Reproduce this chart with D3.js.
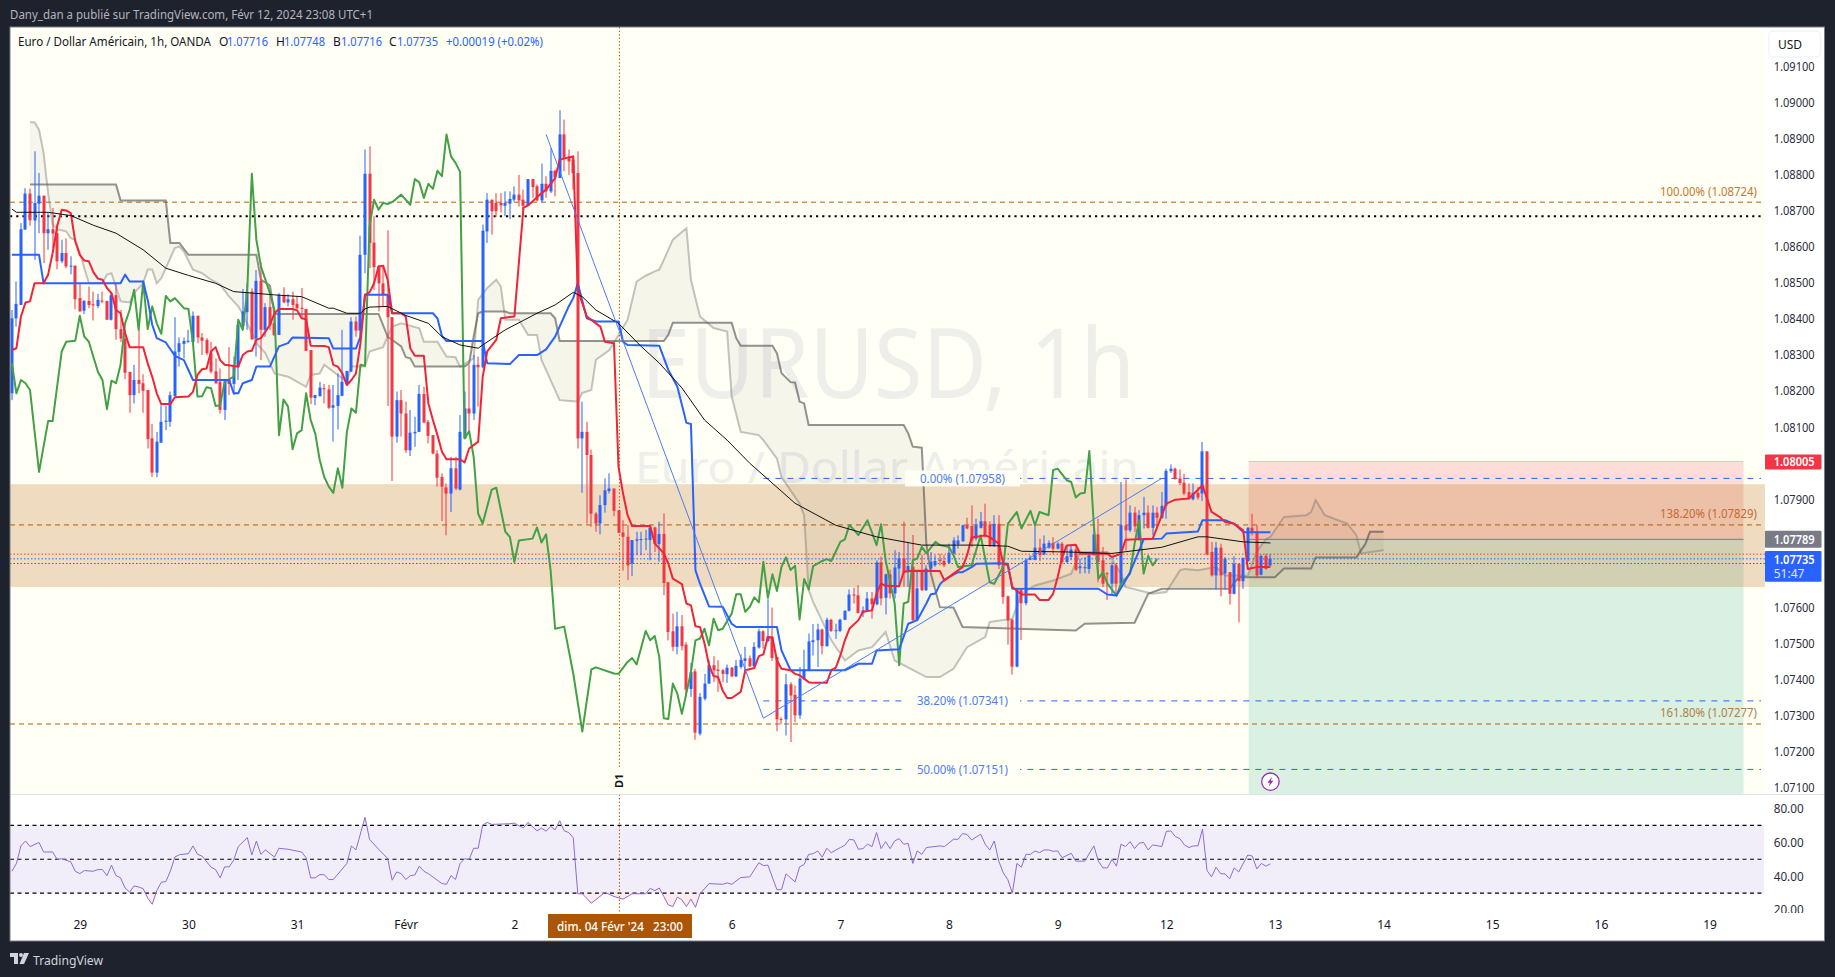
<!DOCTYPE html>
<html>
<head>
<meta charset="utf-8">
<script src="https://cdn.jsdelivr.net/npm/d3@7.9.0/dist/d3.min.js"></script>
<style>
  html, body { margin: 0; padding: 0; background: #1e222d; }
  svg { display: block; }
  text { font-family: "Noto Sans", "Open Sans", sans-serif; }
</style>
</head>
<body>
<svg id="chart" width="1835" height="977"></svg>
<script>
// -------------------- DATA -------------------- //
const firstBar = -15; // bar 0 is 29 Jan 00:00, one bar per trading hour

const opens = [
1.08194,1.08402,1.08439,1.08648,1.08748,1.08673,1.08720,1.08742,1.08638,1.08649,1.08638,1.08560,1.08583,1.08546,1.08548,
1.08458,1.08423,1.08450,1.08441,1.08436,1.08451,1.08450,1.08398,1.08466,1.08372,
1.08346,1.08253,1.08189,1.08231,1.08222,1.08203,1.08069,1.07974,1.08057,1.08115,
1.08115,1.08186,1.08309,1.08331,1.08337,1.08336,1.08409,1.08349,1.08342,1.08307,
1.08255,1.08226,1.08148,1.08231,1.08220,1.08266,1.08381,1.08419,1.08476,1.08346,
1.08506,1.08370,1.08433,1.08388,1.08356,1.08467,1.08446,1.08455,1.08442,1.08431,
1.08428,1.08314,1.08181,1.08186,1.08208,1.08205,1.08154,1.08159,1.08187,1.08220,
1.08254,1.08393,1.08368,1.08578,1.08803,1.08612,1.08546,1.08499,1.08467,1.08405,
1.08074,1.08175,1.08138,1.08036,1.08083,1.08087,1.08192,1.08115,1.08078,1.08027,
1.07962,1.07933,1.07916,1.07986,1.07927,1.08069,1.08152,1.08138,1.08273,1.08266,
1.08643,1.08731,1.08722,1.08722,1.08714,1.08720,1.08731,1.08745,1.08731,1.08715,
1.08788,1.08768,1.08729,1.08775,1.08754,1.08811,1.08791,1.08912,1.08851,1.08842,
1.08805,1.08069,1.08087,1.08023,1.07860,1.07833,1.07884,1.07923,1.07930,1.07870,
1.07808,1.07796,1.07722,1.07785,1.07788,1.07789,1.07787,1.07822,1.07776,1.07804,
1.07670,1.07534,1.07491,1.07548,1.07497,1.07374,1.07423,1.07250,1.07347,1.07389,
1.07440,1.07428,1.07426,1.07415,1.07433,1.07409,1.07435,1.07452,1.07459,1.07437,
1.07489,1.07534,1.07507,1.07520,1.07463,1.07291,1.07290,1.07387,1.07358,1.07301,
1.07401,1.07426,1.07504,1.07509,1.07539,1.07493,1.07566,1.07535,1.07535,1.07566,
1.07591,1.07636,1.07634,1.07585,1.07591,1.07625,1.07609,1.07725,1.07627,1.07692,
1.07639,1.07708,1.07736,1.07699,1.07713,1.07565,1.07704,1.07648,1.07708,1.07717,
1.07733,1.07729,1.07724,1.07749,1.07775,1.07784,1.07828,1.07826,1.07791,1.07821,
1.07839,1.07830,1.07770,1.07832,1.07717,1.07631,1.07566,1.07436,1.07649,1.07612,
1.07732,1.07732,1.07766,1.07747,1.07766,1.07779,1.07763,1.07777,1.07726,1.07740,
1.07761,1.07709,1.07709,1.07707,1.07745,1.07803,1.07731,1.07695,1.07666,1.07717,
1.07666,1.07828,1.07814,1.07863,1.07789,1.07856,1.07863,1.07821,1.07863,1.07849,
1.07882,1.07978,1.07985,1.07958,1.07946,1.07920,1.07900,1.07918,1.07916,1.08033,
1.07754,1.07689,1.07766,1.07694,1.07698,1.07638,1.07721,1.07673,1.07729,1.07821,
1.07811,1.07691,1.07743,1.07716];

const highs = [
1.08425,1.08504,1.08666,1.08763,1.08762,1.08865,1.08805,1.08742,1.08696,1.08708,1.08662,1.08620,1.08624,1.08574,1.08548,
1.08498,1.08453,1.08490,1.08476,1.08470,1.08476,1.08451,1.08474,1.08501,1.08425,
1.08370,1.08254,1.08273,1.08370,1.08247,1.08203,1.08109,1.08087,1.08161,1.08159,
1.08199,1.08405,1.08349,1.08349,1.08370,1.08421,1.08409,1.08361,1.08347,1.08337,
1.08291,1.08263,1.08231,1.08322,1.08296,1.08393,1.08483,1.08499,1.08485,1.08536,
1.08557,1.08444,1.08476,1.08425,1.08472,1.08488,1.08469,1.08476,1.08462,1.08486,
1.08428,1.08314,1.08190,1.08226,1.08220,1.08217,1.08217,1.08249,1.08370,1.08256,
1.08405,1.08407,1.08631,1.08870,1.08879,1.08685,1.08550,1.08550,1.08646,1.08405,
1.08199,1.08203,1.08171,1.08148,1.08129,1.08217,1.08212,1.08120,1.08078,1.08036,
1.07972,1.07944,1.08018,1.08018,1.08134,1.08199,1.08273,1.08300,1.08296,1.08662,
1.08749,1.08731,1.08749,1.08749,1.08754,1.08754,1.08768,1.08800,1.08759,1.08788,
1.08788,1.08773,1.08831,1.08796,1.08874,1.08814,1.08979,1.08953,1.08870,1.08851,
1.08865,1.08171,1.08115,1.08038,1.07865,1.07911,1.07958,1.07972,1.07930,1.07870,
1.07842,1.07829,1.07787,1.07810,1.07810,1.07815,1.07824,1.07824,1.07838,1.07861,
1.07671,1.07583,1.07588,1.07579,1.07504,1.07446,1.07430,1.07363,1.07416,1.07454,
1.07465,1.07454,1.07430,1.07442,1.07435,1.07454,1.07470,1.07491,1.07467,1.07504,
1.07541,1.07537,1.07623,1.07600,1.07463,1.07296,1.07416,1.07393,1.07384,1.07435,
1.07483,1.07528,1.07554,1.07555,1.07541,1.07572,1.07569,1.07555,1.07569,1.07592,
1.07650,1.07655,1.07662,1.07603,1.07643,1.07643,1.07731,1.07741,1.07694,1.07705,
1.07759,1.07754,1.07838,1.07782,1.07801,1.07699,1.07745,1.07717,1.07754,1.07745,
1.07749,1.07745,1.07777,1.07795,1.07800,1.07830,1.07849,1.07883,1.07846,1.07865,
1.07888,1.07839,1.07856,1.07856,1.07726,1.07633,1.07569,1.07652,1.07652,1.07735,
1.07745,1.07828,1.07791,1.07800,1.07786,1.07795,1.07782,1.07782,1.07772,1.07772,
1.07768,1.07735,1.07740,1.07749,1.07825,1.07846,1.07768,1.07698,1.07726,1.07721,
1.07948,1.07955,1.07883,1.07879,1.07870,1.07907,1.07883,1.07883,1.07879,1.07920,
1.07985,1.07997,1.07988,1.07983,1.07971,1.07944,1.07944,1.07934,1.08059,1.08033,
1.07782,1.07782,1.07777,1.07740,1.07698,1.07742,1.07721,1.07738,1.07823,1.07860,
1.07828,1.07747,1.07749,1.07748];

const lows = [
1.08175,1.08379,1.08439,1.08648,1.08659,1.08564,1.08638,1.08555,1.08592,1.08597,1.08538,1.08555,1.08541,1.08524,1.08427,
1.08421,1.08414,1.08430,1.08396,1.08430,1.08444,1.08398,1.08396,1.08342,1.08336,
1.08233,1.08140,1.08166,1.08194,1.08140,1.08041,1.07962,1.07961,1.08057,1.08092,
1.08101,1.08186,1.08268,1.08291,1.08333,1.08333,1.08333,1.08300,1.08300,1.08249,
1.08220,1.08138,1.08120,1.08189,1.08189,1.08231,1.08379,1.08370,1.08342,1.08296,
1.08286,1.08351,1.08370,1.08353,1.08356,1.08444,1.08435,1.08398,1.08427,1.08402,
1.08312,1.08164,1.08161,1.08185,1.08166,1.08150,1.08060,1.08094,1.08186,1.08217,
1.08254,1.08351,1.08351,1.08527,1.08541,1.08481,1.08421,1.08435,1.08159,1.07951,
1.08057,1.08074,1.08029,1.08020,1.08046,1.08087,1.08111,1.08055,1.08025,1.07935,
1.07840,1.07800,1.07865,1.07925,1.07925,1.08069,1.08090,1.08120,1.08157,1.08263,
1.08611,1.08634,1.08683,1.08696,1.08685,1.08677,1.08726,1.08712,1.08685,1.08713,
1.08736,1.08726,1.08724,1.08736,1.08749,1.08740,1.08791,1.08810,1.08800,1.08759,
1.08041,1.07918,1.07833,1.07824,1.07810,1.07803,1.07863,1.07916,1.07853,1.07807,
1.07702,1.07676,1.07687,1.07745,1.07745,1.07759,1.07731,1.07754,1.07727,1.07634,
1.07509,1.07479,1.07470,1.07481,1.07352,1.07352,1.07233,1.07245,1.07342,1.07389,
1.07393,1.07366,1.07393,1.07391,1.07407,1.07407,1.07430,1.07416,1.07435,1.07435,
1.07486,1.07486,1.07504,1.07452,1.07257,1.07276,1.07245,1.07227,1.07282,1.07291,
1.07398,1.07426,1.07467,1.07435,1.07470,1.07491,1.07532,1.07513,1.07532,1.07565,
1.07589,1.07611,1.07583,1.07574,1.07588,1.07569,1.07606,1.07606,1.07581,1.07625,
1.07625,1.07657,1.07657,1.07657,1.07560,1.07563,1.07646,1.07646,1.07704,1.07713,
1.07717,1.07712,1.07721,1.07747,1.07763,1.07782,1.07817,1.07768,1.07786,1.07819,
1.07795,1.07768,1.07768,1.07707,1.07610,1.07497,1.07414,1.07434,1.07510,1.07606,
1.07731,1.07731,1.07729,1.07745,1.07763,1.07749,1.07761,1.07721,1.07724,1.07731,
1.07701,1.07694,1.07695,1.07694,1.07745,1.07670,1.07657,1.07621,1.07633,1.07633,
1.07664,1.07758,1.07809,1.07809,1.07786,1.07819,1.07819,1.07800,1.07823,1.07846,
1.07846,1.07973,1.07955,1.07939,1.07911,1.07899,1.07897,1.07899,1.07895,1.07745,
1.07686,1.07650,1.07631,1.07650,1.07608,1.07636,1.07559,1.07652,1.07726,1.07800,
1.07682,1.07689,1.07705,1.07716];

const closes = [
1.08402,1.08442,1.08649,1.08748,1.08674,1.08722,1.08742,1.08638,1.08649,1.08637,1.08560,1.08583,1.08546,1.08548,1.08455,
1.08421,1.08450,1.08439,1.08438,1.08453,1.08449,1.08398,1.08466,1.08372,1.08346,
1.08251,1.08189,1.08231,1.08220,1.08201,1.08067,1.07974,1.08060,1.08115,1.08118,
1.08189,1.08310,1.08333,1.08339,1.08340,1.08409,1.08349,1.08340,1.08305,1.08254,
1.08222,1.08148,1.08226,1.08220,1.08268,1.08384,1.08421,1.08476,1.08344,1.08506,
1.08370,1.08433,1.08384,1.08356,1.08467,1.08446,1.08455,1.08439,1.08430,1.08428,
1.08312,1.08182,1.08189,1.08210,1.08205,1.08154,1.08161,1.08189,1.08226,1.08256,
1.08393,1.08368,1.08578,1.08803,1.08611,1.08544,1.08499,1.08467,1.08405,1.08074,
1.08175,1.08138,1.08036,1.08085,1.08087,1.08192,1.08113,1.08076,1.08027,1.07960,
1.07935,1.07916,1.07986,1.07930,1.08087,1.08152,1.08138,1.08273,1.08266,1.08645,
1.08731,1.08699,1.08699,1.08715,1.08722,1.08733,1.08745,1.08729,1.08714,1.08788,
1.08766,1.08729,1.08775,1.08754,1.08811,1.08793,1.08912,1.08847,1.08837,1.08805,
1.08069,1.08087,1.08023,1.07860,1.07833,1.07884,1.07925,1.07930,1.07868,1.07807,
1.07796,1.07717,1.07787,1.07789,1.07790,1.07791,1.07822,1.07776,1.07804,1.07668,
1.07532,1.07491,1.07548,1.07493,1.07372,1.07421,1.07253,1.07352,1.07389,1.07440,
1.07426,1.07424,1.07416,1.07433,1.07409,1.07438,1.07455,1.07459,1.07437,1.07491,
1.07534,1.07507,1.07520,1.07460,1.07290,1.07290,1.07387,1.07356,1.07301,1.07403,
1.07428,1.07506,1.07509,1.07539,1.07493,1.07566,1.07535,1.07537,1.07566,1.07591,
1.07636,1.07633,1.07585,1.07592,1.07625,1.07609,1.07725,1.07625,1.07692,1.07639,
1.07711,1.07736,1.07696,1.07715,1.07565,1.07653,1.07648,1.07708,1.07727,1.07729,
1.07729,1.07717,1.07752,1.07786,1.07786,1.07828,1.07819,1.07786,1.07828,1.07839,
1.07797,1.07770,1.07832,1.07717,1.07629,1.07564,1.07436,1.07649,1.07612,1.07732,
1.07738,1.07766,1.07745,1.07777,1.07779,1.07763,1.07777,1.07726,1.07742,1.07761,
1.07705,1.07714,1.07712,1.07745,1.07803,1.07726,1.07666,1.07694,1.07717,1.07666,
1.07828,1.07814,1.07863,1.07825,1.07856,1.07863,1.07821,1.07863,1.07849,1.07882,
1.07979,1.07985,1.07956,1.07945,1.07916,1.07902,1.07918,1.07905,1.08033,1.07747,
1.07689,1.07766,1.07689,1.07735,1.07638,1.07721,1.07673,1.07738,1.07821,1.07809,
1.07689,1.07743,1.07707,1.07735];

// indicator lines as [bar, price] turning points
const tenkan = [[-15,1.08314],[-14,1.08319],[-13,1.08407],[-12,1.08446],[-11,1.08449],[-10,1.08499],[-8,1.08499],[-7,1.08523],[-6,1.08583],[-5,1.08657],[-4,1.08703],[-3,1.08701],[-2,1.08694],[-1,1.08615],[0,1.08578],[1,1.08562],[2,1.08560],[3,1.08530],[4,1.08512],[5,1.08509],[6,1.08486],[7,1.08472],[8,1.08425],[9,1.08416],[10,1.08361],[11,1.08322],[14,1.08322],[15,1.08277],[16,1.08240],[17,1.08194],[18,1.08164],[20,1.08164],[21,1.08183],[24,1.08185],[25,1.08198],[26,1.08245],[27,1.08261],[28,1.08263],[29,1.08310],[30,1.08322],[31,1.08286],[32,1.08273],[34,1.08270],[35,1.08268],[36,1.08300],[37,1.08310],[38,1.08312],[39,1.08342],[40,1.08347],[41,1.08365],[42,1.08384],[43,1.08416],[44,1.08428],[47,1.08428],[48,1.08424],[49,1.08402],[50,1.08399],[51,1.08326],[54,1.08325],[55,1.08322],[56,1.08273],[57,1.08268],[58,1.08249],[59,1.08217],[60,1.08231],[61,1.08249],[62,1.08333],[63,1.08467],[64,1.08474],[65,1.08499],[66,1.08546],[67,1.08548],[68,1.08509],[69,1.08416],[71,1.08416],[72,1.08407],[73,1.08319],[74,1.08298],[76,1.08298],[77,1.08166],[78,1.08120],[79,1.08078],[80,1.08032],[81,1.08011],[84,1.08011],[85,1.08002],[86,1.08041],[88,1.08060],[89,1.08240],[90,1.08310],[92,1.08342],[93,1.08402],[96,1.08407],[98,1.08708],[99,1.08715],[101,1.08738],[103,1.08759],[105,1.08791],[106,1.08842],[109,1.08851],[110,1.08481],[112,1.08407],[114,1.08388],[115,1.08379],[116,1.08337],[118,1.08333],[119,1.07990],[120,1.07916],[121,1.07856],[122,1.07826],[126,1.07826],[127,1.07778],[129,1.07750],[130,1.07722],[131,1.07680],[133,1.07665],[134,1.07611],[135,1.07606],[136,1.07548],[137,1.07546],[138,1.07500],[139,1.07440],[140,1.07410],[141,1.07407],[142,1.07370],[143,1.07349],[144,1.07349],[146,1.07366],[147,1.07426],[149,1.07432],[150,1.07465],[151,1.07470],[152,1.07518],[153,1.07516],[154,1.07453],[155,1.07430],[157,1.07426],[158,1.07416],[159,1.07412],[161,1.07393],[162,1.07391],[165,1.07391],[166,1.07426],[167,1.07433],[168,1.07467],[169,1.07509],[170,1.07541],[172,1.07565],[173,1.07588],[175,1.07592],[176,1.07639],[177,1.07666],[178,1.07660],[181,1.07659],[182,1.07699],[184,1.07702],[190,1.07701],[191,1.07675],[193,1.07694],[195,1.07712],[196,1.07745],[197,1.07794],[200,1.07800],[201,1.07795],[203,1.07777],[204,1.07721],[205,1.07717],[206,1.07657],[208,1.07636],[211,1.07636],[212,1.07621],[214,1.07621],[215,1.07638],[216,1.07684],[217,1.07740],[218,1.07772],[220,1.07774],[221,1.07749],[227,1.07749],[228,1.07740],[230,1.07749],[231,1.07788],[237,1.07791],[238,1.07823],[240,1.07888],[242,1.07899],[245,1.07902],[248,1.07939],[249,1.07902],[250,1.07865],[252,1.07849],[253,1.07837],[255,1.07832],[257,1.07814],[258,1.07707],[260,1.07712],[263,1.07712]];

const kijun = [[-15,1.08578],[-9,1.08578],[-8,1.08499],[9,1.08499],[10,1.08523],[11,1.08504],[14,1.08504],[15,1.08453],[16,1.08384],[17,1.08347],[19,1.08335],[21,1.08298],[23,1.08286],[25,1.08231],[33,1.08231],[34,1.08194],[35,1.08194],[36,1.08222],[38,1.08231],[39,1.08268],[42,1.08268],[44,1.08324],[46,1.08333],[47,1.08349],[55,1.08347],[56,1.08318],[61,1.08318],[62,1.08351],[63,1.08467],[68,1.08467],[69,1.08416],[78,1.08416],[79,1.08402],[80,1.08353],[81,1.08339],[89,1.08339],[90,1.08277],[95,1.08275],[97,1.08300],[101,1.08300],[103,1.08316],[105,1.08351],[108,1.08435],[109,1.08458],[110,1.08499],[112,1.08402],[114,1.08393],[119,1.08393],[120,1.08337],[121,1.08328],[128,1.08326],[130,1.08259],[132,1.08212],[134,1.08112],[135,1.08109],[136,1.07703],[137,1.07666],[139,1.07603],[142,1.07602],[144,1.07555],[145,1.07546],[154,1.07546],[155,1.07481],[157,1.07426],[169,1.07426],[172,1.07444],[175,1.07444],[176,1.07481],[181,1.07484],[183,1.07555],[185,1.07565],[187,1.07611],[188,1.07637],[189,1.07639],[190,1.07664],[191,1.07677],[194,1.07698],[195,1.07698],[197,1.07712],[198,1.07721],[203,1.07723],[205,1.07721],[206,1.07652],[225,1.07652],[227,1.07636],[229,1.07633],[231,1.07675],[232,1.07698],[234,1.07758],[235,1.07789],[239,1.07791],[240,1.07805],[247,1.07811],[248,1.07842],[253,1.07842],[255,1.07832],[257,1.07809],[263,1.07809]];

const chikou = [[-15,1.08277],[-14,1.08194],[-13,1.08231],[-12,1.08222],[-11,1.08203],[-9,1.07976],[-7,1.08117],[-6,1.08117],[-4,1.08310],[-3,1.08337],[-1,1.08340],[0,1.08409],[1,1.08351],[2,1.08337],[4,1.08254],[5,1.08231],[6,1.08150],[7,1.08229],[8,1.08222],[9,1.08273],[10,1.08388],[11,1.08425],[12,1.08481],[13,1.08370],[14,1.08504],[15,1.08372],[16,1.08435],[17,1.08388],[18,1.08359],[19,1.08464],[20,1.08449],[21,1.08458],[23,1.08430],[24,1.08428],[25,1.08333],[26,1.08185],[27,1.08186],[28,1.08211],[29,1.08208],[30,1.08159],[31,1.08161],[32,1.08226],[34,1.08240],[35,1.08398],[36,1.08370],[37,1.08481],[38,1.08803],[39,1.08620],[40,1.08546],[42,1.08472],[43,1.08425],[44,1.08078],[45,1.08177],[46,1.08157],[47,1.08039],[48,1.08083],[49,1.08092],[50,1.08194],[51,1.08120],[52,1.08083],[53,1.08009],[54,1.07962],[55,1.07935],[56,1.07918],[57,1.07986],[58,1.07932],[59,1.08087],[60,1.08152],[61,1.08140],[62,1.08273],[63,1.08270],[64,1.08657],[65,1.08731],[66,1.08703],[67,1.08722],[68,1.08719],[69,1.08724],[71,1.08745],[73,1.08717],[74,1.08788],[75,1.08779],[76,1.08736],[77,1.08775],[78,1.08761],[79,1.08811],[80,1.08796],[81,1.08912],[82,1.08851],[83,1.08833],[84,1.08808],[85,1.08069],[86,1.08089],[87,1.08018],[88,1.07860],[89,1.07833],[91,1.07927],[92,1.07932],[94,1.07810],[95,1.07796],[96,1.07726],[97,1.07786],[100,1.07791],[101,1.07822],[102,1.07780],[103,1.07803],[104,1.07703],[105,1.07541],[107,1.07547],[109,1.07417],[111,1.07256],[113,1.07428],[114,1.07434],[118,1.07417],[119,1.07416],[121,1.07449],[122,1.07460],[123,1.07442],[125,1.07535],[126,1.07509],[127,1.07521],[128,1.07463],[129,1.07293],[130,1.07291],[131,1.07389],[132,1.07361],[133,1.07305],[135,1.07421],[136,1.07509],[137,1.07514],[138,1.07541],[139,1.07495],[140,1.07569],[141,1.07537],[142,1.07541],[144,1.07583],[145,1.07637],[146,1.07637],[147,1.07588],[148,1.07602],[149,1.07628],[150,1.07614],[151,1.07727],[152,1.07627],[153,1.07692],[154,1.07646],[155,1.07713],[156,1.07739],[157,1.07704],[158,1.07716],[159,1.07567],[160,1.07679],[161,1.07650],[162,1.07715],[164,1.07729],[165,1.07734],[166,1.07729],[168,1.07782],[169,1.07789],[170,1.07829],[172,1.07801],[174,1.07842],[176,1.07773],[177,1.07831],[178,1.07731],[180,1.07611],[181,1.07440],[182,1.07611],[183,1.07616],[184,1.07731],[185,1.07736],[186,1.07768],[187,1.07750],[189,1.07782],[190,1.07773],[192,1.07768],[193,1.07745],[194,1.07712],[197,1.07717],[199,1.07800],[201,1.07670],[202,1.07666],[204,1.07714],[205,1.07832],[207,1.07865],[208,1.07819],[210,1.07868],[211,1.07828],[212,1.07865],[214,1.07856],[215,1.07981],[216,1.07985],[218,1.07953],[219,1.07948],[220,1.07905],[221,1.07916],[222,1.07918],[223,1.08034],[224,1.07828],[225,1.07680],[226,1.07698],[227,1.07666],[229,1.07633],[230,1.07666],[232,1.07694],[233,1.07777],[234,1.07842],[235,1.07694],[236,1.07743],[237,1.07717],[238,1.07735]];

const senkouA = [[-11,1.08946],[-10,1.08946],[-9,1.08925],[-8,1.08861],[-7,1.08749],[-6,1.08662],[-5,1.08649],[-3,1.08643],[-2,1.08624],[-1,1.08620],[0,1.08583],[2,1.08499],[5,1.08499],[6,1.08523],[7,1.08527],[9,1.08449],[11,1.08446],[12,1.08472],[14,1.08499],[15,1.08537],[16,1.08537],[17,1.08499],[18,1.08513],[21,1.08597],[22,1.08601],[23,1.08587],[25,1.08537],[27,1.08527],[29,1.08509],[31,1.08495],[33,1.08462],[35,1.08435],[36,1.08414],[39,1.08333],[41,1.08305],[43,1.08249],[46,1.08240],[50,1.08212],[51,1.08245],[53,1.08249],[54,1.08273],[56,1.08254],[59,1.08226],[60,1.08268],[63,1.08268],[64,1.08310],[67,1.08322],[68,1.08351],[69,1.08379],[71,1.08388],[75,1.08374],[76,1.08337],[79,1.08337],[81,1.08296],[83,1.08294],[84,1.08268],[87,1.08291],[88,1.08453],[90,1.08486],[92,1.08509],[93,1.08490],[94,1.08398],[97,1.08398],[99,1.08356],[101,1.08356],[102,1.08286],[106,1.08175],[110,1.08171],[111,1.08195],[113,1.08203],[114,1.08287],[117,1.08314],[121,1.08398],[123,1.08504],[125,1.08520],[127,1.08532],[128,1.08537],[129,1.08564],[131,1.08620],[134,1.08652],[135,1.08509],[137,1.08407],[140,1.08375],[143,1.08365],[144,1.08185],[146,1.08087],[150,1.08078],[151,1.08064],[154,1.08013],[155,1.07962],[159,1.07888],[160,1.07856],[161,1.07648],[162,1.07615],[166,1.07509],[169,1.07453],[172,1.07481],[175,1.07490],[178,1.07532],[180,1.07453],[187,1.07407],[190,1.07407],[193,1.07430],[196,1.07490],[200,1.07518],[201,1.07560],[206,1.07569],[208,1.07639],[211,1.07661],[215,1.07675],[219,1.07694],[221,1.07754],[227,1.07754],[230,1.07694],[231,1.07657],[237,1.07638],[240,1.07643],[243,1.07703],[244,1.07707],[247,1.07703],[251,1.07712],[253,1.07689],[258,1.07689],[260,1.07755],[262,1.07789],[263,1.07796],[266,1.07851],[271,1.07856],[272,1.07865],[273,1.07898],[275,1.07856],[278,1.07842],[280,1.07833],[282,1.07800],[283,1.07750],[288,1.07759]];

const senkouB = [[-11,1.08773],[8,1.08773],[9,1.08729],[19,1.08729],[20,1.08611],[22,1.08611],[24,1.08578],[39,1.08578],[40,1.08509],[42,1.08493],[43,1.08414],[66,1.08414],[68,1.08351],[71,1.08324],[72,1.08294],[73,1.08291],[74,1.08268],[85,1.08268],[86,1.08277],[87,1.08351],[88,1.08416],[89,1.08421],[94,1.08421],[95,1.08416],[104,1.08416],[105,1.08402],[106,1.08339],[129,1.08339],[130,1.08356],[131,1.08390],[144,1.08390],[145,1.08347],[146,1.08326],[153,1.08326],[154,1.08305],[155,1.08250],[157,1.08225],[158,1.08224],[159,1.08171],[160,1.08166],[161,1.08106],[182,1.08106],[183,1.08083],[184,1.08046],[186,1.08043],[187,1.07777],[188,1.07694],[190,1.07601],[193,1.07600],[195,1.07546],[220,1.07536],[222,1.07555],[233,1.07558],[236,1.07638],[239,1.07652],[254,1.07652],[256,1.07684],[264,1.07684],[266,1.07708],[272,1.07708],[273,1.07739],[282,1.07739],[284,1.07777],[285,1.07810],[288,1.07810]];

const movingAvg = [[-15,1.08705],[-14,1.08696],[-7,1.08696],[-2,1.08687],[3,1.08660],[8,1.08638],[14,1.08592],[19,1.08541],[24,1.08521],[30,1.08499],[34,1.08476],[38,1.08472],[43,1.08467],[49,1.08462],[55,1.08430],[56,1.08430],[59,1.08416],[62,1.08416],[63,1.08428],[64,1.08433],[68,1.08435],[72,1.08410],[77,1.08388],[80,1.08351],[84,1.08328],[88,1.08319],[89,1.08328],[94,1.08370],[101,1.08416],[105,1.08439],[109,1.08474],[111,1.08462],[114,1.08425],[119,1.08388],[124,1.08324],[128,1.08278],[133,1.08209],[138,1.08120],[143,1.08064],[148,1.08000],[158,1.07889],[167,1.07828],[176,1.07796],[186,1.07773],[198,1.07773],[205,1.07770],[208,1.07756],[218,1.07754],[228,1.07750],[239,1.07767],[247,1.07796],[249,1.07796],[257,1.07782],[263,1.07779]];

const rsi = [[-15,42.9],[-14,47.5],[-13,57.9],[-12,60.8],[-11,57.5],[-9,59.9],[-8,54.3],[-6,54.3],[-5,49.9],[-4,50.3],[-2,48.5],[-1,42.9],[0,41.5],[1,43.3],[3,42.9],[4,43.9],[5,43.9],[6,40.3],[7,46.5],[8,40.3],[9,39],[10,33],[11,30.6],[12,34.2],[13,33.6],[14,32.6],[15,27],[16,23.4],[17,31.4],[18,36.4],[19,36.8],[20,42.9],[21,51.3],[22,52.7],[24,53.3],[25,57.9],[26,52.9],[27,51.9],[29,45.3],[30,43.9],[31,39],[32,45.5],[33,45.5],[34,49.5],[35,57.5],[37,62.8],[38,52.5],[39,60.8],[40,52.9],[41,55.5],[43,51.3],[44,56.5],[46,55.9],[49,54.3],[50,50.9],[51,39],[52,39],[53,40.9],[54,40.9],[55,38],[56,38],[59,47.5],[60,57.9],[61,55.5],[63,74.8],[64,61.8],[66,55.9],[68,50.5],[69,37.6],[70,42.5],[71,41.5],[72,38],[73,40.3],[74,40.7],[75,45.9],[76,42.9],[77,41.5],[80,35.6],[81,35.2],[82,40.3],[83,38],[84,47.5],[85,50.3],[86,49.9],[87,56.5],[88,56.5],[89,70.2],[90,71.8],[91,70.6],[95,71],[96,71.4],[97,69.8],[98,68.6],[99,71.8],[101,66.8],[102,68.4],[103,66.6],[104,69.4],[105,67.4],[106,72.8],[107,66.8],[108,65.8],[109,62.8],[110,29.6],[111,29.6],[113,24],[116,30.4],[118,28],[120,26.4],[122,29.6],[125,29.6],[126,32.8],[127,31.4],[128,33],[129,28],[130,23],[131,22],[132,27.6],[133,26],[134,22],[135,26.4],[136,21.6],[137,29.6],[139,35.6],[142,35.2],[143,36],[144,35.2],[146,39.2],[148,39.6],[150,47.9],[151,46.3],[152,46.5],[154,32],[155,32],[156,41.4],[158,36.6],[159,45.5],[160,46.9],[161,52.9],[162,53.3],[163,54.9],[164,51.3],[165,56.5],[166,53.9],[168,56.9],[169,58.3],[170,61.8],[171,61.4],[172,55.9],[173,56.3],[174,58.9],[175,57.5],[176,65.8],[177,56.3],[178,60.4],[179,56.3],[180,60.8],[181,62.2],[182,58.9],[183,59.3],[184,47.5],[185,54.9],[186,52.9],[187,56.9],[190,57.9],[191,57.5],[193,61.8],[194,61.8],[195,65.2],[196,64.6],[197,61.4],[199,64.8],[200,58.9],[201,55.5],[202,60.8],[203,48.9],[204,41.9],[205,37.9],[206,30],[207,47.5],[208,45.3],[209,52.9],[210,52.9],[211,54.9],[212,53.9],[213,55.5],[214,55.5],[215,54.7],[216,54.9],[217,50.9],[219,53.5],[220,48.9],[222,48.9],[224,57.9],[225,48.9],[226,44.9],[227,44.9],[228,49.9],[229,45.9],[230,58.9],[231,57.5],[232,60.4],[233,56.3],[234,59.5],[235,59.9],[236,55.5],[237,58.5],[239,57.5],[240,66.4],[241,66.8],[242,63.4],[243,62.2],[244,58.5],[245,56.9],[246,57.9],[247,57.9],[248,67.8],[249,43.3],[250,39.6],[251,45.3],[252,41.5],[253,41.3],[254,38.4],[255,44.9],[256,42.5],[258,52.5],[259,51.9],[260,44.3],[261,47.5],[262,45.9],[263,47.3]];

// fib drawing: anchor points and levels
const fibAnchors = [[103,1.08912],[151,1.07293],[239,1.07958]];
const fibBlueLevels = [1.07958, 1.07341, 1.07151];
const fibBlueLabels = ['0.00% (1.07958)', '38.20% (1.07341)', '50.00% (1.07151)'];
const fibBrownLevels = [1.08724, 1.07829, 1.07277];
const fibBrownLabels = ['100.00% (1.08724)', '138.20% (1.07829)', '161.80% (1.07277)'];
const fibBrownColors = ['#c8782c', '#c46a30', '#ae8042'];

const blackDotted = 1.08685;
const zoneTop = 1.07942, zoneBottom = 1.07657;
const highLine = 1.07748, closeLine = 1.07735, lowLine = 1.07722;

// short position tool
const stopLevel = 1.08005, entryLevel = 1.07789;
const positionBars = [258.2, 367.5];

const priceTicks = [1.071,1.072,1.073,1.074,1.075,1.076,1.077,1.078,1.079,1.080,1.081,1.082,1.083,1.084,1.085,1.086,1.087,1.088,1.089,1.090,1.091];
const rsiTicks = [80, 60, 40, 20];
const rsiLevels = [70, 50, 30];
const dayBars = [0,24,48,72,96,120,144,168,192,216,240,264,288,312,336,360];
const dayLabels = ['29','30','31','Févr','2','5','6','7','8','9','12','13','14','15','16','19'];
const crossBar = 119.2;

const legendParts = [
  ['Euro / Dollar Américain, 1h, OANDA', 18, '#131722', 193],
  ['O', 219, '#131722'], ['1.07716', 227, '#2962ff', 41],
  ['H', 276, '#131722'], ['1.07748', 284, '#2962ff', 41],
  ['B', 333, '#131722'], ['1.07716', 341, '#2962ff', 41],
  ['C', 389, '#131722'], ['1.07735', 397, '#2962ff', 41],
  ['+0.00019 (+0.02%)', 446, '#2962ff', 97]
];

if ([opens, highs, lows, closes].some(a => a.length !== 279)) throw new Error('candle arrays differ: ' + [opens.length, highs.length, lows.length, closes.length]);

// -------------------- LAYOUT -------------------- //
const frame = { left: 10, top: 27, right: 1824.5, bottom: 941 };
const plotRight = 1765, mainBottom = 794.5, rsiBottom = 913;

const svg = d3.select('#chart');

const x = d3.scaleLinear().domain([0, 264]).range([79.8, 79.8 + 264 * 4.527]);
const y = d3.scaleLinear().domain([1.071, 1.091]).range([787.8, 66.6]);
const yRsi = d3.scaleLinear().domain([20, 80]).range([910, 808.5]);

const defs = svg.append('defs');
defs.append('clipPath').attr('id', 'mainClip').append('rect')
  .attr('x', frame.left).attr('y', frame.top).attr('width', plotRight - frame.left).attr('height', mainBottom - frame.top);
defs.append('clipPath').attr('id', 'rsiClip').append('rect')
  .attr('x', frame.left).attr('y', mainBottom).attr('width', plotRight - frame.left).attr('height', rsiBottom - mainBottom);
defs.append('clipPath').attr('id', 'rsiLowClip').append('rect')
  .attr('x', frame.left).attr('y', yRsi(30)).attr('width', plotRight - frame.left).attr('height', 40);
defs.append('clipPath').attr('id', 'rsiHighClip').append('rect')
  .attr('x', frame.left).attr('y', yRsi(70) - 40).attr('width', plotRight - frame.left).attr('height', 40);

// backgrounds
svg.append('rect').attr('x', frame.left).attr('y', frame.top).attr('width', frame.right - frame.left).attr('height', frame.bottom - frame.top).attr('fill', '#ffffff');
svg.append('rect').attr('x', frame.left).attr('y', frame.top).attr('width', plotRight - frame.left).attr('height', mainBottom - frame.top).attr('fill', '#fffff5');

// header text
svg.append('text').attr('x', 10).attr('y', 19).attr('font-size', 12.5).attr('fill', '#b2b5be')
  .attr('textLength', 363).attr('lengthAdjust', 'spacingAndGlyphs')
  .text('Dany_dan a publié sur TradingView.com, Févr 12, 2024 23:08 UTC+1');

const main = svg.append('g').attr('clip-path', 'url(#mainClip)');

// watermark
main.append('text').attr('x', 641).attr('y', 398).attr('font-size', 96).attr('fill', '#eeeeea')
  .attr('font-family', 'Open Sans').attr('textLength', 494).attr('lengthAdjust', 'spacingAndGlyphs').text('EURUSD, 1h');
main.append('text').attr('x', 635).attr('y', 483).attr('font-size', 44).attr('fill', '#eeeeea')
  .attr('font-family', 'Open Sans').attr('textLength', 504).attr('lengthAdjust', 'spacingAndGlyphs').text('Euro / Dollar Américain');

// position tool and supply zone
const posX0 = x(positionBars[0]), posX1 = x(positionBars[1]);
main.append('rect').attr('x', posX0).attr('y', y(stopLevel)).attr('width', posX1 - posX0).attr('height', y(entryLevel) - y(stopLevel))
  .attr('fill', 'rgba(242,54,69,0.17)');
main.append('rect').attr('x', posX0).attr('y', y(entryLevel)).attr('width', posX1 - posX0).attr('height', mainBottom - y(entryLevel))
  .attr('fill', 'rgba(8,153,129,0.15)');
main.append('rect').attr('x', frame.left).attr('y', y(zoneTop)).attr('width', plotRight - frame.left).attr('height', y(zoneBottom) - y(zoneTop))
  .attr('fill', 'rgba(180,95,6,0.22)');
main.append('line').attr('x1', posX0).attr('x2', posX1).attr('y1', y(stopLevel)).attr('y2', y(stopLevel)).attr('stroke', 'rgba(242,54,69,0.25)');
main.append('line').attr('x1', posX0).attr('x2', posX1).attr('y1', y(entryLevel)).attr('y2', y(entryLevel)).attr('stroke', '#787b86').attr('stroke-width', 1);

// ichimoku cloud
const line = d3.line().x(d => x(d[0])).y(d => y(d[1]));
main.append('path')
  .attr('d', line(senkouA) + 'L' + line(senkouB.slice().reverse()).slice(1) + 'Z')
  .attr('fill', 'rgba(90,80,60,0.055)');
main.append('path').attr('d', line(senkouA)).attr('fill', 'none').attr('stroke', 'rgba(110,110,110,0.4)').attr('stroke-width', 2);
main.append('path').attr('d', line(senkouB)).attr('fill', 'none').attr('stroke', 'rgba(80,80,80,0.62)').attr('stroke-width', 2);

// horizontal levels
main.selectAll('.brown-level').data(fibBrownLevels).join('line').attr('class', 'brown-level')
  .attr('x1', frame.left).attr('x2', plotRight).attr('y1', d => y(d)).attr('y2', d => y(d))
  .attr('stroke', '#b45f06').attr('stroke-width', 1).attr('stroke-dasharray', '5 4');
main.append('line').attr('x1', frame.left).attr('x2', 1762).attr('y1', y(blackDotted)).attr('y2', y(blackDotted))
  .attr('stroke', '#000').attr('stroke-width', 2.2).attr('stroke-dasharray', '2.2 4');
main.append('line').attr('x1', frame.left).attr('x2', plotRight).attr('y1', y(highLine)).attr('y2', y(highLine))
  .attr('stroke', '#f23645').attr('stroke-dasharray', '1.5 2');
[closeLine, lowLine].forEach(p => {
  main.append('line').attr('x1', frame.left).attr('x2', plotRight).attr('y1', y(p)).attr('y2', y(p))
    .attr('stroke', '#2962ff').attr('stroke-dasharray', '1.5 2');
});

// fib levels with labels cutting the line
const fibG = main.append('g');
fibBlueLevels.forEach((lvl, k) => {
  fibG.append('line').attr('x1', x(151)).attr('x2', 1761).attr('y1', y(lvl)).attr('y2', y(lvl))
    .attr('stroke', '#2962ff').attr('stroke-dasharray', '6 6');
  fibG.append('rect').attr('x', 905).attr('y', y(lvl) - 8).attr('width', 115).attr('height', 16).attr('fill', '#fffff5');
  fibG.append('text').attr('x', 962.5).attr('y', y(lvl) + 4.5).attr('text-anchor', 'middle').attr('font-size', 12)
    .attr('fill', '#4c7df0').attr('textLength', k ? 91 : 85).attr('lengthAdjust', 'spacingAndGlyphs').text(fibBlueLabels[k]);
});
fibBrownLevels.forEach((lvl, k) => {
  fibG.append('text').attr('x', 1757).attr('y', y(lvl) - 6.5).attr('text-anchor', 'end').attr('font-size', 12)
    .attr('fill', fibBrownColors[k]).attr('textLength', 97).attr('lengthAdjust', 'spacingAndGlyphs').text(fibBrownLabels[k]);
});

// crosshair
main.append('line').attr('x1', x(crossBar)).attr('x2', x(crossBar)).attr('y1', frame.top).attr('y2', 769)
  .attr('stroke', '#b45f06').attr('stroke-dasharray', '1.5 2');
main.append('text').attr('transform', `translate(${x(crossBar) + 4},788) rotate(-90)`).attr('font-size', 11).attr('font-weight', 700).attr('fill', '#131722').text('D1');

// candles
const bars = d3.range(opens.length);
const barX = k => x(k + firstBar);
main.selectAll('.wick').data(bars).join('rect').attr('class', 'wick')
  .attr('x', k => Math.round(barX(k)) - 0.5).attr('width', 1)
  .attr('y', k => y(highs[k])).attr('height', k => Math.max(1, y(lows[k]) - y(highs[k])))
  .attr('fill', k => closes[k] >= opens[k] ? '#2962ff' : '#f23645');
main.selectAll('.body').data(bars).join('rect').attr('class', 'body')
  .attr('x', k => Math.round(barX(k)) - 1.5).attr('width', 3)
  .attr('y', k => y(Math.max(opens[k], closes[k]))).attr('height', k => Math.max(1, Math.abs(y(opens[k]) - y(closes[k]))))
  .attr('fill', k => closes[k] >= opens[k] ? '#2962ff' : '#f23645');

// indicator lines
main.append('path').attr('d', line(chikou)).attr('fill', 'none').attr('stroke', '#43a047').attr('stroke-width', 2).attr('stroke-linejoin', 'round');
main.append('path').attr('d', line(kijun)).attr('fill', 'none').attr('stroke', '#2962ff').attr('stroke-width', 2).attr('stroke-linejoin', 'round');
main.append('path').attr('d', line(tenkan)).attr('fill', 'none').attr('stroke', '#f0233a').attr('stroke-width', 2).attr('stroke-linejoin', 'round');
main.append('path').attr('d', line(movingAvg)).attr('fill', 'none').attr('stroke', '#111').attr('stroke-width', 1);
main.append('path').attr('d', line(fibAnchors)).attr('fill', 'none').attr('stroke', '#4c7df0').attr('stroke-width', 1);

// alert icon
const icon = main.append('g').attr('transform', `translate(${x(263)},781.7)`);
icon.append('circle').attr('r', 8.7).attr('fill', '#fff').attr('stroke', '#9c27b0').attr('stroke-width', 1.3);
icon.append('path').attr('d', 'M1.8,-5 L-3,1 L-0.4,1 L-1.8,5 L3,-1 L0.4,-1 Z').attr('fill', '#9c27b0');

// RSI pane
const rsiG = svg.append('g').attr('clip-path', 'url(#rsiClip)');
rsiG.append('rect').attr('x', frame.left).attr('y', yRsi(70)).attr('width', 1764 - frame.left).attr('height', yRsi(30) - yRsi(70))
  .attr('fill', 'rgba(126,87,194,0.1)');
const rsiLine = d3.line().x(d => x(d[0])).y(d => yRsi(d[1]));
rsiG.append('path').attr('clip-path', 'url(#rsiLowClip)')
  .attr('d', d3.area().x(d => x(d[0])).y0(yRsi(30)).y1(d => yRsi(d[1]))(rsi)).attr('fill', 'rgba(242,54,69,0.1)');
rsiG.append('path').attr('clip-path', 'url(#rsiHighClip)')
  .attr('d', d3.area().x(d => x(d[0])).y0(yRsi(70)).y1(d => yRsi(d[1]))(rsi)).attr('fill', 'rgba(8,153,129,0.1)');
rsiG.selectAll('.rsi-level').data(rsiLevels).join('line').attr('class', 'rsi-level')
  .attr('x1', frame.left).attr('x2', 1764).attr('y1', d => yRsi(d)).attr('y2', d => yRsi(d))
  .attr('stroke', '#000').attr('stroke-width', 1.1).attr('stroke-dasharray', '4 3.5');
rsiG.append('line').attr('x1', x(crossBar)).attr('x2', x(crossBar)).attr('y1', mainBottom).attr('y2', rsiBottom)
  .attr('stroke', '#b45f06').attr('stroke-dasharray', '1.5 2');
rsiG.append('path').attr('d', rsiLine(rsi)).attr('fill', 'none').attr('stroke', '#8d6ad8').attr('stroke-width', 1);

// pane separator
svg.append('line').attr('x1', frame.left).attr('x2', frame.right).attr('y1', mainBottom).attr('y2', mainBottom)
  .attr('stroke', '#e0e3eb').attr('stroke-width', 1.2);

// right axes
const priceAxis = svg.append('g').attr('transform', `translate(${plotRight},0)`)
  .call(d3.axisRight(y).tickValues(priceTicks).tickFormat(d3.format('.5f')).tickSize(0).tickPadding(8.7));
const rsiAxis = svg.append('g').attr('transform', `translate(${plotRight},0)`)
  .call(d3.axisRight(yRsi).tickValues(rsiTicks).tickFormat(d3.format('.2f')).tickSize(0).tickPadding(8.7));
[priceAxis, rsiAxis].forEach(a => {
  a.select('.domain').remove();
  a.selectAll('text').attr('font-family', 'Noto Sans').attr('font-size', 12).attr('fill', '#2a2e39');
});
priceAxis.selectAll('text').attr('textLength', 41).attr('lengthAdjust', 'spacingAndGlyphs');
rsiAxis.selectAll('text').attr('textLength', 30).attr('lengthAdjust', 'spacingAndGlyphs');

// time axis strip covers the cut off 20.00 label
svg.append('rect').attr('x', frame.left).attr('y', rsiBottom).attr('width', frame.right - frame.left).attr('height', frame.bottom - rsiBottom).attr('fill', '#fff');
const timeAxis = svg.append('g').attr('transform', `translate(0,${rsiBottom})`)
  .call(d3.axisBottom(x).tickValues(dayBars).tickFormat((d, k) => dayLabels[k]).tickSize(0).tickPadding(7.5));
timeAxis.select('.domain').remove();
timeAxis.selectAll('text').attr('font-family', 'Noto Sans').attr('font-size', 12).attr('fill', '#131722');

// crosshair date label
svg.append('rect').attr('x', 548).attr('y', 914).attr('width', 144).attr('height', 24).attr('fill', '#ab5507');
svg.append('text').attr('x', 620).attr('y', 931).attr('text-anchor', 'middle').attr('font-size', 12).attr('font-weight', 500).attr('fill', '#fff')
  .attr('textLength', 126).attr('lengthAdjust', 'spacingAndGlyphs').attr('xml:space', 'preserve').text("dim. 04 Févr '24   23:00");

// price labels
const priceBox = (p0, p1, color) => svg.append('rect').attr('x', plotRight).attr('y', p0).attr('width', 56.5).attr('height', p1 - p0).attr('fill', color).attr('rx', 1);
const priceText = (yy, txt, op) => svg.append('text').attr('x', 1773.7).attr('y', yy).attr('font-size', 12).attr('font-weight', 600)
  .attr('fill', '#fff').attr('opacity', op).attr('textLength', 41).attr('lengthAdjust', 'spacingAndGlyphs').text(txt);
priceBox(y(stopLevel) - 7, y(stopLevel) + 8, '#f23645');
priceText(y(stopLevel) + 4.5, d3.format('.5f')(stopLevel), 1);
priceBox(y(entryLevel) - 8.5, y(entryLevel) + 8.5, '#787b86');
priceText(y(entryLevel) + 4.5, d3.format('.5f')(entryLevel), 1);
priceBox(551, 581.7, '#2962ff');
priceText(564, d3.format('.5f')(closeLine), 1);
svg.append('text').attr('x', 1773.7).attr('y', 578).attr('font-size', 12).attr('fill', '#fff').attr('opacity', 0.85).text('51:47');

// currency button
svg.append('rect').attr('x', 1769).attr('y', 31).attr('width', 51.5).attr('height', 26).attr('rx', 4)
  .attr('fill', '#fff').attr('stroke', '#f0f3fa').attr('stroke-width', 1.5);
svg.append('text').attr('x', 1778).attr('y', 48.5).attr('font-size', 12).attr('fill', '#131722').text('USD');

// legend on top of everything
svg.selectAll('.legend-part').data(legendParts).join('text').attr('class', 'legend-part')
  .attr('x', d => d[1]).attr('y', 46).attr('font-size', 12).attr('fill', d => d[2])
  .attr('textLength', d => d[3] || null).attr('lengthAdjust', 'spacingAndGlyphs').text(d => d[0]);

// frame
svg.append('rect').attr('x', frame.left).attr('y', frame.top).attr('width', frame.right - frame.left).attr('height', frame.bottom - frame.top)
  .attr('fill', 'none').attr('stroke', '#787b86').attr('stroke-width', 1);

// footer logo
const logo = svg.append('g').attr('transform', 'translate(10,953)').attr('fill', '#d1d4dc');
logo.append('path').attr('d', 'M0,0 H8 V11 H4 V4 H0 Z');
logo.append('circle').attr('cx', 11).attr('cy', 2).attr('r', 2);
logo.append('path').attr('d', 'M14,0 H19 L14,11 H9.5 Z');
svg.append('text').attr('x', 33).attr('y', 964.5).attr('font-size', 13).attr('fill', '#d1d4dc')
  .attr('textLength', 70).attr('lengthAdjust', 'spacingAndGlyphs').text('TradingView');
</script>
</body>
</html>
